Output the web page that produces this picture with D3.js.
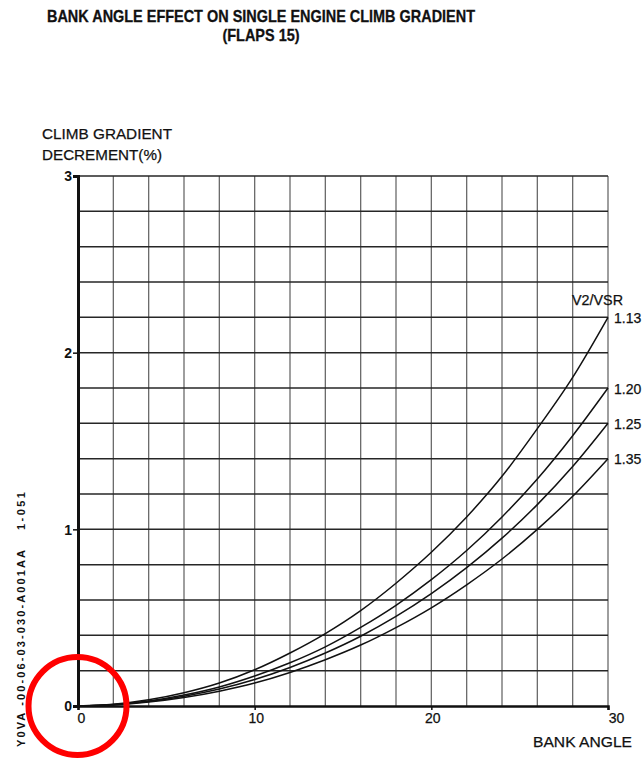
<!DOCTYPE html>
<html>
<head>
<meta charset="utf-8">
<script src="https://cdn.jsdelivr.net/npm/d3@7/dist/d3.min.js"></script>
<style>
  html, body { margin: 0; padding: 0; background: #fff; }
  svg { display: block; }
  text { font-family: "Liberation Sans", Arial, sans-serif; fill: #111; }
</style>
</head>
<body>
<svg id="chart" width="644" height="758"></svg>
<script>
// ---- data ----
const bankAngles = [0, 2, 4, 6, 8, 10, 12, 14, 16, 18, 20, 22, 24, 26, 28, 30];
const ratioLabels = ["1.13", "1.20", "1.25", "1.35"];
const grad113 = [0, 0.010, 0.035, 0.075, 0.130, 0.205, 0.300, 0.410, 0.540, 0.695, 0.870, 1.070, 1.300, 1.570, 1.860, 2.20];
const grad120 = [0, 0.008, 0.028, 0.062, 0.108, 0.170, 0.245, 0.335, 0.445, 0.570, 0.715, 0.880, 1.070, 1.285, 1.530, 1.80];
const grad125 = [0, 0.007, 0.025, 0.055, 0.096, 0.150, 0.218, 0.300, 0.395, 0.507, 0.636, 0.783, 0.950, 1.140, 1.355, 1.60];
const grad135 = [0, 0.006, 0.022, 0.048, 0.084, 0.130, 0.190, 0.262, 0.345, 0.444, 0.556, 0.686, 0.832, 1.000, 1.187, 1.40];
const xTickLabels = [0, 10, 20, 30];
const yTickLabels = [0, 1, 2, 3];
const titleLines = ["BANK ANGLE EFFECT ON SINGLE ENGINE CLIMB GRADIENT", "(FLAPS 15)"];
const yAxisTitle = ["CLIMB GRADIENT", "DECREMENT(%)"];
const xAxisTitle = "BANK ANGLE";
const legendTitle = "V2/VSR";
const sideCode = "Y0VA -00-06-03-030-A001AA";
const sideCode2 = "1-051";

const series = [grad113, grad120, grad125, grad135];

const svg = d3.select("#chart");
const x = d3.scaleLinear().domain([0, 30]).range([78, 608]);
const y = d3.scaleLinear().domain([0, 3]).range([706, 176]);

// title
svg.append("text").attr("x", 261).attr("y", 22).attr("text-anchor", "middle")
  .attr("font-size", 16.5).attr("font-weight", "bold")
  .attr("stroke", "#111").attr("stroke-width", 0.3)
  .attr("textLength", 428).attr("lengthAdjust", "spacingAndGlyphs")
  .text(titleLines[0]);
svg.append("text").attr("x", 261).attr("y", 41).attr("text-anchor", "middle")
  .attr("font-size", 16.5).attr("font-weight", "bold")
  .attr("stroke", "#111").attr("stroke-width", 0.3)
  .attr("textLength", 77).attr("lengthAdjust", "spacingAndGlyphs")
  .text(titleLines[1]);

// grid
const g = svg.append("g");
g.selectAll("line.v").data(x.ticks(15).filter(d => d > 0)).join("line")
  .attr("x1", d => x(d)).attr("x2", d => x(d))
  .attr("y1", y(0)).attr("y2", y(3))
  .attr("stroke", "#6a6a6a").attr("stroke-width", 1.3);
g.selectAll("line.h").data(y.ticks(15).filter(d => d > 0)).join("line")
  .attr("x1", x(0)).attr("x2", x(30))
  .attr("y1", d => y(d)).attr("y2", d => y(d))
  .attr("stroke", "#262626").attr("stroke-width", 1.5);

// axes
const yAxis = d3.axisLeft(y).tickValues(yTickLabels).tickSize(5).tickPadding(1).tickFormat(d3.format("d"));
const ya = svg.append("g").attr("transform", `translate(${x(0)},0)`).call(yAxis);
ya.select(".domain").attr("stroke", "#111").attr("stroke-width", 3);
ya.selectAll(".tick line").attr("stroke", "#111").attr("stroke-width", 1.5);
ya.selectAll(".tick text").attr("font-size", 14).attr("font-weight", "bold")
  .attr("font-family", "Liberation Sans, Arial, sans-serif").attr("fill", "#111").attr("dy", "0.35em");

const xAxis = d3.axisBottom(x).tickValues(xTickLabels).tickSize(4).tickPadding(3).tickFormat(d3.format("d"));
const xa = svg.append("g").attr("transform", `translate(0,${y(0)})`).call(xAxis);
xa.select(".domain").attr("stroke", "#111").attr("stroke-width", 2.5);
xa.selectAll(".tick line").attr("stroke", "#111").attr("stroke-width", 1.5);
xa.selectAll(".tick text").attr("font-size", 14)
  .attr("font-family", "Liberation Sans, Arial, sans-serif").attr("fill", "#111")
  .attr("stroke", "#111").attr("stroke-width", 0.25)
  .attr("dx", d => d === 30 ? 8 : (d === 0 ? 3 : 1));

// curves
const line = d3.line().x((d, i) => x(bankAngles[i])).y(d => y(d)).curve(d3.curveMonotoneX);
svg.append("g").selectAll("path").data(series).join("path")
  .attr("d", line).attr("fill", "none").attr("stroke", "#111").attr("stroke-width", 1.5);

// series labels
svg.append("g").selectAll("text").data(series).join("text")
  .attr("x", x(30) + 6).attr("y", d => y(d[d.length - 1]) + 5.5)
  .attr("font-size", 14).attr("stroke", "#111").attr("stroke-width", 0.25)
  .text((d, i) => ratioLabels[i]);
svg.append("text").attr("x", 572).attr("y", 305).attr("font-size", 14)
  .attr("stroke", "#111").attr("stroke-width", 0.25)
  .attr("textLength", 51).attr("lengthAdjust", "spacingAndGlyphs").text(legendTitle);

// axis titles
svg.append("text").attr("x", 42).attr("y", 139).attr("font-size", 15)
  .attr("stroke", "#111").attr("stroke-width", 0.25)
  .attr("textLength", 130).attr("lengthAdjust", "spacingAndGlyphs").text(yAxisTitle[0]);
svg.append("text").attr("x", 42).attr("y", 160).attr("font-size", 15)
  .attr("stroke", "#111").attr("stroke-width", 0.25)
  .attr("textLength", 120).attr("lengthAdjust", "spacingAndGlyphs").text(yAxisTitle[1]);
svg.append("text").attr("x", 533).attr("y", 747).attr("font-size", 15)
  .attr("stroke", "#111").attr("stroke-width", 0.25)
  .attr("textLength", 99).attr("lengthAdjust", "spacingAndGlyphs").text(xAxisTitle);

// side code (rotated)
svg.append("text").attr("transform", "translate(25,747) rotate(-90)")
  .attr("font-family", "DejaVu Sans Mono, Liberation Mono, monospace").attr("font-size", 11)
  .attr("font-weight", "bold")
  .attr("textLength", 197).attr("lengthAdjust", "spacing").text(sideCode);
svg.append("text").attr("transform", "translate(25,530) rotate(-90)")
  .attr("font-family", "DejaVu Sans Mono, Liberation Mono, monospace").attr("font-size", 11)
  .attr("font-weight", "bold")
  .attr("textLength", 38).attr("lengthAdjust", "spacing").text(sideCode2);

// red circle annotation
svg.append("circle").attr("cx", x(0) - 0.5).attr("cy", y(0)).attr("r", 49)
  .attr("fill", "none").attr("stroke", "#ff0000").attr("stroke-width", 6);
</script>
</body>
</html>
